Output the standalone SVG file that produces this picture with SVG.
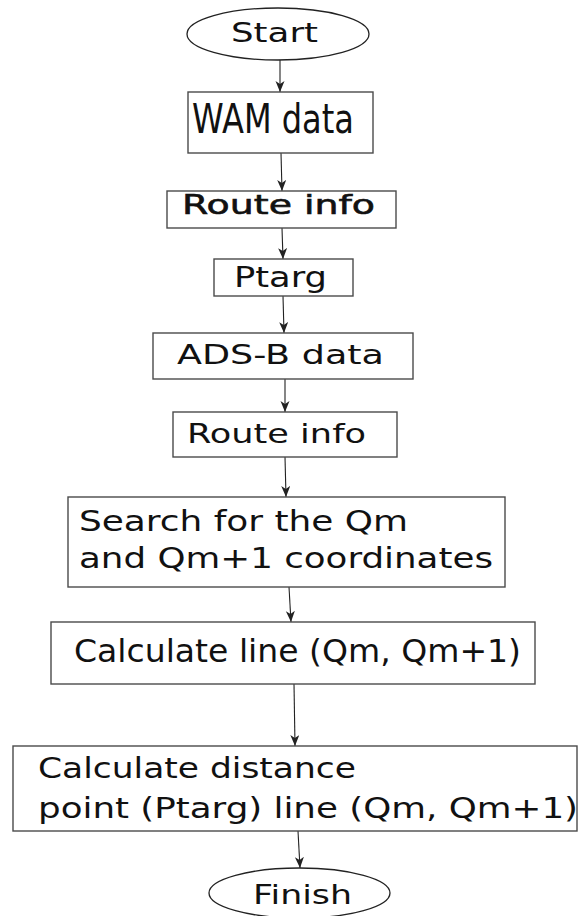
<svg xmlns="http://www.w3.org/2000/svg" width="578" height="916" viewBox="0 0 578 916">
<style>
.box{fill:#fff;stroke:#4a4a4a;stroke-width:1.4}
.ell{fill:#fff;stroke:#222;stroke-width:1.3}
.t{font-family:"DejaVu Sans",Verdana,sans-serif;fill:#111}
.c{stroke:#222;stroke-width:1.1;fill:none;marker-end:url(#ah)}
</style>
<defs>
<marker id="ah" markerUnits="userSpaceOnUse" markerWidth="12" markerHeight="10" refX="11" refY="4.5" orient="auto">
<path d="M0,0 L11,4.5 L0,9 L3,4.5 z" fill="#222"/>
</marker>
</defs>
<rect width="578" height="916" fill="#fff"/>
<g id="connectors">
<line class="c" x1="280" y1="60" x2="280" y2="92"/>
<line class="c" x1="281" y1="153" x2="282" y2="191"/>
<line class="c" x1="282" y1="228" x2="283" y2="259"/>
<line class="c" x1="283" y1="296" x2="284" y2="333"/>
<line class="c" x1="285" y1="379" x2="285" y2="412"/>
<line class="c" x1="285" y1="457" x2="286" y2="497"/>
<line class="c" x1="289" y1="587" x2="291" y2="622"/>
<line class="c" x1="294" y1="684" x2="295" y2="746"/>
<line class="c" x1="298" y1="831" x2="300" y2="868"/>
</g>
<g id="start">
<ellipse class="ell" cx="278" cy="34" rx="91" ry="26"/>
<text class="t" x="231" y="42" font-size="27" textLength="87" lengthAdjust="spacingAndGlyphs">Start</text>
</g>
<g id="wam">
<rect class="box" x="188" y="92" width="185" height="61"/>
<text class="t" x="192" y="133" font-size="40" textLength="162" lengthAdjust="spacingAndGlyphs">WAM data</text>
</g>
<g id="route1">
<rect class="box" x="167" y="191" width="229" height="37"/>
<text class="t" x="182" y="214" font-size="27" stroke="#111" stroke-width="0.6" textLength="193" lengthAdjust="spacingAndGlyphs">Route info</text>
</g>
<g id="ptarg">
<rect class="box" x="214" y="259" width="139" height="37"/>
<text class="t" x="234" y="287" font-size="29" textLength="93" lengthAdjust="spacingAndGlyphs">Ptarg</text>
</g>
<g id="adsb">
<rect class="box" x="153" y="333" width="260" height="46"/>
<text class="t" x="177" y="364" font-size="27" textLength="207" lengthAdjust="spacingAndGlyphs">ADS-B data</text>
</g>
<g id="route2">
<rect class="box" x="173" y="412" width="224" height="45"/>
<text class="t" x="187" y="443" font-size="27" textLength="179" lengthAdjust="spacingAndGlyphs">Route info</text>
</g>
<g id="search">
<rect class="box" x="68" y="497" width="437" height="90"/>
<text class="t" x="79" y="531" font-size="28.5" textLength="329" lengthAdjust="spacingAndGlyphs">Search for the Qm</text>
<text class="t" x="79" y="568" font-size="28.5" textLength="414" lengthAdjust="spacingAndGlyphs">and Qm+1 coordinates</text>
</g>
<g id="calcline">
<rect class="box" x="51" y="622" width="484" height="62"/>
<text class="t" x="74" y="662" font-size="32" textLength="447" lengthAdjust="spacingAndGlyphs">Calculate line (Qm, Qm+1)</text>
</g>
<g id="distance">
<rect class="box" x="13" y="746" width="564" height="85"/>
<text class="t" x="38" y="778" font-size="29" textLength="318" lengthAdjust="spacingAndGlyphs">Calculate distance</text>
<text class="t" x="38" y="818" font-size="29" textLength="540" lengthAdjust="spacingAndGlyphs">point (Ptarg) line (Qm, Qm+1)</text>
</g>
<g id="finish">
<ellipse class="ell" cx="299.5" cy="893" rx="90.5" ry="25"/>
<text class="t" x="253" y="904" font-size="27" textLength="99" lengthAdjust="spacingAndGlyphs">Finish</text>
</g>
</svg>
